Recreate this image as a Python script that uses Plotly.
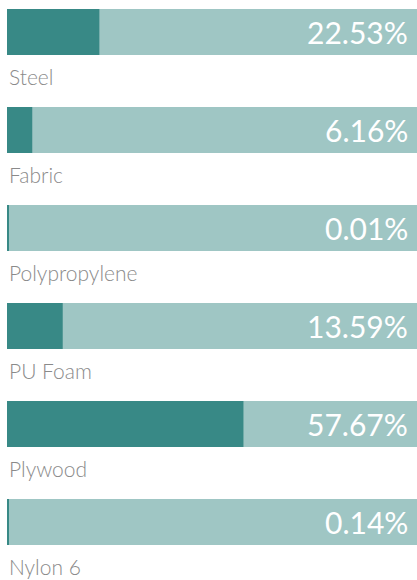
import plotly.graph_objects as go

categories = ["Steel", "Fabric", "Polypropylene", "PU Foam", "Plywood", "Nylon 6"]
values = [22.53, 6.16, 0.01, 13.59, 57.67, 0.14]
value_labels = ["22.53%", "6.16%", "0.01%", "13.59%", "57.67%", "0.14%"]

DARK = "#388986"
LIGHT = "#9fc6c4"
FONT = "Lato"

pos = list(range(len(categories)))

fig = go.Figure()
fig.add_trace(go.Bar(
    x=[100] * len(categories), y=pos, orientation="h", width=0.47,
    marker=dict(color=LIGHT, line=dict(width=0)), hoverinfo="skip", showlegend=False,
))
fig.add_trace(go.Bar(
    x=[max(v, 0.25) for v in values], y=pos, orientation="h", width=0.47,
    marker=dict(color=DARK, line=dict(width=0)), showlegend=False,
))

for p, cat, lab in zip(pos, categories, value_labels):
    fig.add_annotation(x=100, y=p, xref="x", yref="y", text=lab, showarrow=False,
                       xanchor="right", yanchor="middle", xshift=-7,
                       font=dict(family=FONT, size=30, color="white", weight=400))
    fig.add_annotation(x=0, y=p + 0.45, xref="x", yref="y", text=cat, showarrow=False,
                       xanchor="left", yanchor="middle",
                       font=dict(family=FONT, size=21, color="#8a8a8a", weight=300))

fig.update_layout(
    width=417, height=580, barmode="overlay",
    margin=dict(l=7, r=0, t=0, b=0),
    paper_bgcolor="white", plot_bgcolor="white",
    xaxis=dict(range=[0, 100], visible=False, fixedrange=True),
    yaxis=dict(range=[5 + 58 / 98, -32 / 98], visible=False, fixedrange=True),
)

fig.write_html("out.html")
